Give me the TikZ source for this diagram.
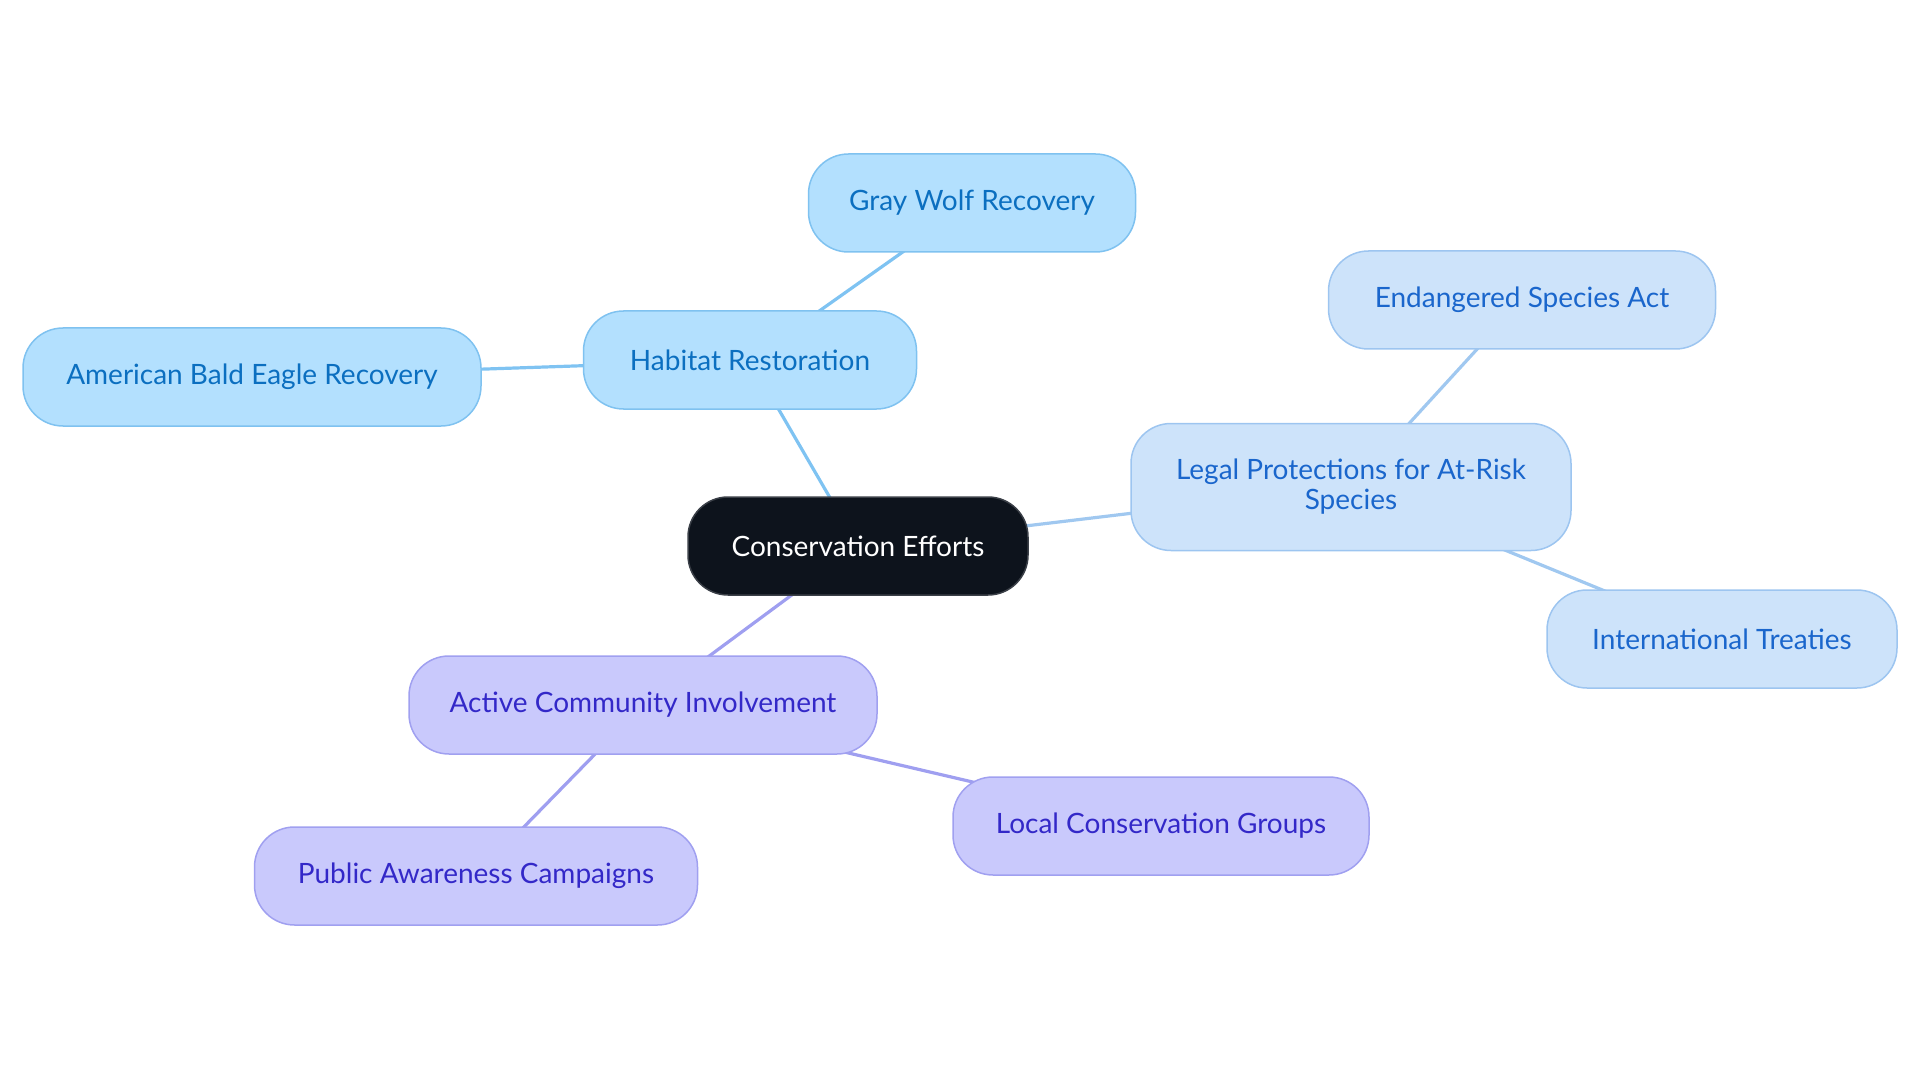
\documentclass[tikz,border=0pt]{standalone}
\usepackage{fontspec}
\setmainfont{Lato}
\usetikzlibrary{backgrounds}
\begin{document}
\begin{tikzpicture}[x=1pt,y=-1pt,
  box/.style={rounded corners=40pt, line width=1.5pt, minimum height=98pt, inner sep=0pt, align=center, font=\fontsize{28}{30}\selectfont},
  root/.style={box, fill=rootfill, draw=rootdraw, text=white},
  blue/.style={box, fill=bluefill, draw=bluedraw, text=bluetext},
  legal/.style={box, fill=legalfill, draw=legaldraw, text=legaltext},
  purp/.style={box, fill=purpfill, draw=purpdraw, text=purptext},
  eblue/.style={draw=blueedge, line width=3.2pt},
  elegal/.style={draw=legaledge, line width=3.2pt},
  epurp/.style={draw=purpedge, line width=3.2pt}]
\definecolor{rootfill}{HTML}{0D131C}
\definecolor{rootdraw}{HTML}{3A3F47}
\definecolor{bluefill}{HTML}{B3E0FE}
\definecolor{bluedraw}{HTML}{7FC2F0}
\definecolor{bluetext}{HTML}{0B6FC0}
\definecolor{legalfill}{HTML}{CDE3FA}
\definecolor{legaldraw}{HTML}{9DC5F0}
\definecolor{legaltext}{HTML}{1A66CC}
\definecolor{purpfill}{HTML}{C9C9FC}
\definecolor{purpdraw}{HTML}{A0A0F0}
\definecolor{purptext}{HTML}{3328C8}
\definecolor{blueedge}{HTML}{7FC3F2}
\definecolor{legaledge}{HTML}{A0C8F0}
\definecolor{purpedge}{HTML}{9F9FF0}
\useasboundingbox (0,0) rectangle (1920,1083);
\node[root, minimum width=340pt] (ce) at (858,546) {Conservation Efforts};
\node[blue, minimum width=333pt] (hr) at (750,360) {Habitat Restoration};
\node[blue, minimum width=327pt] (gw) at (972,203) {Gray Wolf Recovery};
\node[blue, minimum width=458pt] (ab) at (252,377) {American Bald Eagle Recovery};
\node[legal, minimum width=440pt, minimum height=127pt] (lp) at (1351,487) {Legal Protections for At-Risk\\Species};
\node[legal, minimum width=387pt] (es) at (1522,300) {Endangered Species Act};
\node[legal, minimum width=350pt] (it) at (1722,639) {International Treaties};
\node[purp, minimum width=468pt] (ac) at (643,705) {Active Community Involvement};
\node[purp, minimum width=416pt] (lc) at (1161,826) {Local Conservation Groups};
\node[purp, minimum width=443pt] (pa) at (476,876) {Public Awareness Campaigns};
\begin{scope}[on background layer]
\draw[eblue] (ce.center) -- (hr.center);
\draw[eblue] (hr.center) -- (gw.center);
\draw[eblue] (hr.center) -- (ab.center);
\draw[elegal] (ce.center) -- (lp.center);
\draw[elegal] (lp.center) -- (es.center);
\draw[elegal] (lp.center) -- (it.center);
\draw[epurp] (ce.center) -- (ac.center);
\draw[epurp] (ac.center) -- (lc.center);
\draw[epurp] (ac.center) -- (pa.center);
\end{scope}
\end{tikzpicture}
\end{document}
